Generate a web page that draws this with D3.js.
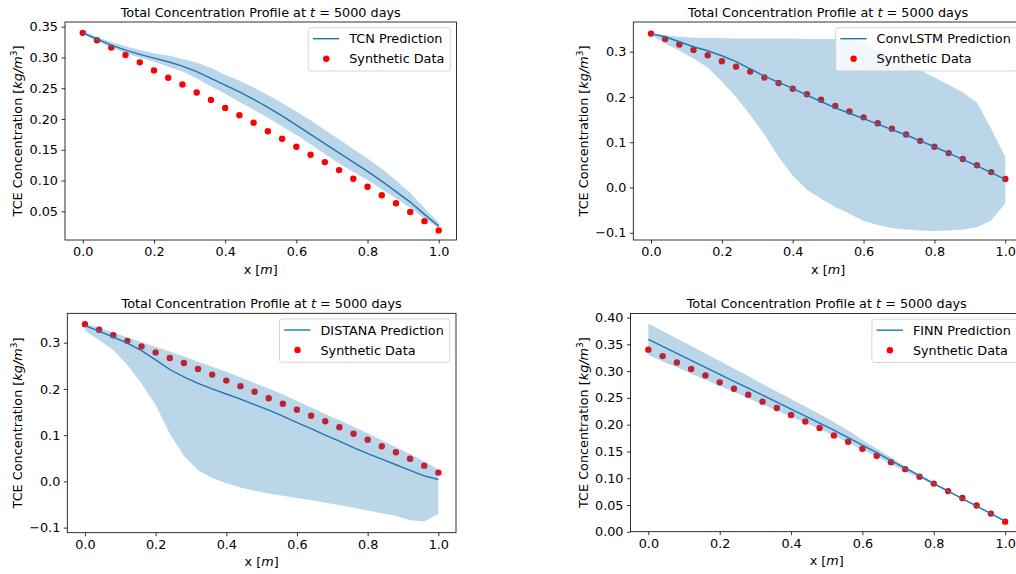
<!DOCTYPE html>
<html>
<head>
<meta charset="utf-8">
<script src="https://cdn.jsdelivr.net/npm/d3@7"></script>
<style>
  html, body { margin: 0; padding: 0; background: #fff; }
  svg { display: block; font-family: "DejaVu Sans", sans-serif; }
</style>
</head>
<body>
<svg id="chart" width="1016" height="574"></svg>
<script>
// values, x grid of the 1D domain in metres
const X_GRID = [0, 0.04, 0.08, 0.12, 0.16, 0.20, 0.24, 0.28, 0.32, 0.36, 0.40, 0.44, 0.48,
  0.52, 0.56, 0.60, 0.64, 0.68, 0.72, 0.76, 0.80, 0.84, 0.88, 0.92, 0.96, 1.00];

const SYNTHETIC_DATA = [0.340, 0.328, 0.316, 0.304, 0.292, 0.279, 0.267, 0.256, 0.243, 0.231,
  0.218, 0.206, 0.194, 0.180, 0.168, 0.155, 0.142, 0.130, 0.117, 0.103, 0.090, 0.076, 0.063,
  0.049, 0.034, 0.019];

const TCN_MEAN = [0.340, 0.330, 0.320, 0.312, 0.305, 0.299, 0.293, 0.286, 0.277, 0.266, 0.255,
  0.244, 0.232, 0.219, 0.205, 0.190, 0.175, 0.160, 0.145, 0.130, 0.115, 0.099, 0.082, 0.065,
  0.045, 0.026];
const TCN_LOWER = [0.338, 0.326, 0.316, 0.307, 0.300, 0.293, 0.285, 0.277, 0.266, 0.253, 0.241,
  0.228, 0.215, 0.202, 0.188, 0.174, 0.159, 0.143, 0.128, 0.114, 0.101, 0.086, 0.071, 0.056,
  0.038, 0.0225];
const TCN_UPPER = [0.343, 0.333, 0.325, 0.318, 0.312, 0.307, 0.303, 0.298, 0.292, 0.283, 0.272,
  0.262, 0.251, 0.239, 0.226, 0.212, 0.198, 0.182, 0.167, 0.151, 0.136, 0.119, 0.100, 0.080,
  0.055, 0.032];

const CONVLSTM_MEAN = [0.340, 0.333, 0.322, 0.311, 0.302, 0.291, 0.278, 0.262, 0.246, 0.232,
  0.219, 0.204, 0.190, 0.176, 0.164, 0.152, 0.140, 0.128, 0.116, 0.103, 0.090, 0.076, 0.062,
  0.048, 0.033, 0.018];
const CONVLSTM_LOWER = [0.337, 0.318, 0.302, 0.285, 0.265, 0.234, 0.200, 0.160, 0.117, 0.068,
  0.026, -0.005, -0.025, -0.043, -0.058, -0.074, -0.083, -0.090, -0.093, -0.095, -0.096,
  -0.095, -0.093, -0.088, -0.073, -0.035];
const CONVLSTM_UPPER = [0.341, 0.336, 0.333, 0.331, 0.330, 0.330, 0.329, 0.329, 0.329, 0.329,
  0.329, 0.328, 0.328, 0.328, 0.327, 0.318, 0.303, 0.288, 0.272, 0.259, 0.243, 0.227, 0.210,
  0.188, 0.130, 0.068];

const DISTANA_MEAN = [0.337, 0.325, 0.312, 0.299, 0.283, 0.263, 0.242, 0.226, 0.212, 0.200,
  0.189, 0.178, 0.166, 0.154, 0.141, 0.127, 0.114, 0.100, 0.087, 0.073, 0.060, 0.048, 0.036,
  0.024, 0.012, 0.004];
const DISTANA_LOWER = [0.326, 0.306, 0.284, 0.252, 0.212, 0.165, 0.103, 0.055, 0.024, 0.0075,
  -0.004, -0.013, -0.020, -0.026, -0.031, -0.036, -0.041, -0.046, -0.051, -0.057, -0.063,
  -0.069, -0.075, -0.084, -0.087, -0.070];
const DISTANA_UPPER = [0.341, 0.332, 0.322, 0.312, 0.301, 0.291, 0.281, 0.270, 0.259, 0.248,
  0.237, 0.225, 0.213, 0.201, 0.188, 0.174, 0.160, 0.146, 0.132, 0.118, 0.104, 0.089, 0.074,
  0.059, 0.043, 0.026];

const FINN_MEAN = [0.359, 0.346, 0.333, 0.320, 0.307, 0.294, 0.281, 0.268, 0.255, 0.242, 0.229,
  0.216, 0.203, 0.190, 0.176, 0.162, 0.148, 0.133, 0.119, 0.105, 0.090, 0.076, 0.062, 0.048,
  0.034, 0.020];
const FINN_LOWER = [0.330, 0.318, 0.307, 0.295, 0.284, 0.272, 0.261, 0.249, 0.238, 0.226, 0.215,
  0.203, 0.192, 0.180, 0.166, 0.153, 0.140, 0.126, 0.113, 0.100, 0.088, 0.075, 0.061, 0.047,
  0.033, 0.019];
const FINN_UPPER = [0.389, 0.375, 0.361, 0.347, 0.333, 0.319, 0.305, 0.291, 0.276, 0.262, 0.248,
  0.234, 0.220, 0.205, 0.189, 0.172, 0.155, 0.139, 0.122, 0.107, 0.092, 0.078, 0.063, 0.049,
  0.035, 0.021];

const X_TICKS = [0, 0.2, 0.4, 0.6, 0.8, 1.0];
const Y_TICKS_TCN = [0.05, 0.10, 0.15, 0.20, 0.25, 0.30, 0.35];
const Y_TICKS_CONVLSTM = [-0.1, 0.0, 0.1, 0.2, 0.3];
const Y_TICKS_DISTANA = [-0.1, 0.0, 0.1, 0.2, 0.3];
const Y_TICKS_FINN = [0.00, 0.05, 0.10, 0.15, 0.20, 0.25, 0.30, 0.35, 0.40];

const BLUE = "#1f77b4";
const FONT_SIZE = 12.8;
const DOT_R = 3.2;

const panels = [
  { name: "TCN", mean: TCN_MEAN, lower: TCN_LOWER, upper: TCN_UPPER,
    yTicks: Y_TICKS_TCN, yFmt: ".2f", yDomain: [0.0034, 0.3576],
    left: 65, right: 456.5, top: 22, bottom: 240, ylabelX: 17.5 },
  { name: "ConvLSTM", mean: CONVLSTM_MEAN, lower: CONVLSTM_LOWER, upper: CONVLSTM_UPPER,
    yTicks: Y_TICKS_CONVLSTM, yFmt: ".1f", yDomain: [-0.116, 0.3656],
    left: 633.3, right: 1023, top: 22, bottom: 240, ylabelX: 583 },
  { name: "DISTANA", mean: DISTANA_MEAN, lower: DISTANA_LOWER, upper: DISTANA_UPPER,
    yTicks: Y_TICKS_DISTANA, yFmt: ".1f", yDomain: [-0.111, 0.3636],
    left: 67.3, right: 456, top: 313.3, bottom: 532.7, ylabelX: 17.5 },
  { name: "FINN", mean: FINN_MEAN, lower: FINN_LOWER, upper: FINN_UPPER,
    yTicks: Y_TICKS_FINN, yFmt: ".2f", yDomain: [0.0002, 0.4075],
    left: 630.5, right: 1023, top: 313.5, bottom: 531.7, ylabelX: 583 }
];

const svg = d3.select("#chart");

panels.forEach(drawPanel);

function drawPanel (p) {
  const x = d3.scaleLinear().domain([-0.05, 1.05]).range([p.left, p.right]);
  const y = d3.scaleLinear().domain(p.yDomain).range([p.bottom, p.top]);
  const rows = X_GRID.map((xv, i) => ({
    x: xv, mean: p.mean[i], lo: p.lower[i], hi: p.upper[i], data: SYNTHETIC_DATA[i]
  }));

  const g = svg.append("g");

  // scatter first, the band is painted over it like in the original
  g.selectAll("circle.data")
    .data(rows)
    .join("circle")
    .attr("class", "data")
    .attr("cx", d => x(d.x))
    .attr("cy", d => y(d.data))
    .attr("r", DOT_R)
    .attr("fill", "red");

  const area = d3.area()
    .x(d => x(d.x))
    .y0(d => y(d.lo))
    .y1(d => y(d.hi));

  g.append("path")
    .datum(rows)
    .attr("d", area)
    .attr("fill", BLUE)
    .attr("fill-opacity", 0.3);

  const line = d3.line()
    .x(d => x(d.x))
    .y(d => y(d.mean));

  g.append("path")
    .datum(rows)
    .attr("d", line)
    .attr("fill", "none")
    .attr("stroke", BLUE)
    .attr("stroke-width", 1.4);

  // axes
  const xAxis = g.append("g")
    .attr("transform", `translate(0,${p.bottom})`)
    .call(d3.axisBottom(x).tickValues(X_TICKS).tickFormat(d3.format(".1f"))
      .tickSize(3.5).tickPadding(3.5));
  const yAxis = g.append("g")
    .attr("transform", `translate(${p.left},0)`)
    .call(d3.axisLeft(y).tickValues(p.yTicks).tickFormat(d3.format(p.yFmt))
      .tickSize(3.5).tickPadding(3.5));

  [xAxis, yAxis].forEach(a => {
    a.select(".domain").remove();
    a.selectAll("line").attr("stroke", "#000").attr("stroke-width", 0.8);
    a.selectAll("text")
      .attr("fill", "#000")
      .style("font-size", FONT_SIZE + "px")
      .style("font-family", "DejaVu Sans");
  });

  // frame
  g.append("rect")
    .attr("x", p.left)
    .attr("y", p.top)
    .attr("width", p.right - p.left)
    .attr("height", p.bottom - p.top)
    .attr("fill", "none")
    .attr("stroke", "#000")
    .attr("stroke-width", 0.8);

  // title
  const cx = (p.left + p.right) / 2;
  const title = g.append("text")
    .attr("x", cx)
    .attr("y", p.top - 5.5)
    .attr("text-anchor", "middle")
    .style("font-size", FONT_SIZE + "px");
  title.append("tspan").text("Total Concentration Profile at ");
  title.append("tspan").attr("font-style", "italic").text("t");
  title.append("tspan").text(" = 5000 days");

  // x label
  const xl = g.append("text")
    .attr("x", cx)
    .attr("y", p.bottom + 33.5)
    .attr("text-anchor", "middle")
    .style("font-size", FONT_SIZE + "px");
  xl.append("tspan").text("x [");
  xl.append("tspan").attr("font-style", "italic").text("m");
  xl.append("tspan").text("]");

  // y label
  const cy = (p.top + p.bottom) / 2;
  const yl = g.append("text")
    .attr("transform", `translate(${p.ylabelX + 4.5},${cy}) rotate(-90)`)
    .attr("text-anchor", "middle")
    .style("font-size", FONT_SIZE + "px");
  yl.append("tspan").text("TCE Concentration [");
  yl.append("tspan").attr("font-style", "italic").text("kg/m");
  yl.append("tspan").attr("dy", -5).style("font-size", "9px").text("3");
  yl.append("tspan").attr("dy", 5).text("]");

  drawLegend(g, p);
}

function drawLegend (g, p) {
  const lg = g.append("g");
  const t1 = lg.append("text").style("font-size", FONT_SIZE + "px").text(p.name + " Prediction");
  const t2 = lg.append("text").style("font-size", FONT_SIZE + "px").text("Synthetic Data");
  const tw = Math.max(t1.node().getComputedTextLength(), t2.node().getComputedTextLength());
  const w = 41 + tw + 6;
  const h = 43.3;
  const bx = p.right - 6.2 - w;
  const by = p.top + 5.7;

  lg.insert("rect", ":first-child")
    .attr("x", bx)
    .attr("y", by)
    .attr("width", w)
    .attr("height", h)
    .attr("rx", 2.5)
    .attr("fill", "#fff")
    .attr("fill-opacity", 0.8)
    .attr("stroke", "#cccccc")
    .attr("stroke-opacity", 0.8)
    .attr("stroke-width", 1);

  lg.append("line")
    .attr("x1", bx + 4.7)
    .attr("x2", bx + 31)
    .attr("y1", by + 11)
    .attr("y2", by + 11)
    .attr("stroke", BLUE)
    .attr("stroke-width", 1.4);
  lg.append("circle")
    .attr("cx", bx + 18)
    .attr("cy", by + 31)
    .attr("r", DOT_R)
    .attr("fill", "red");

  t1.attr("x", bx + 41).attr("y", by + 15.5);
  t2.attr("x", bx + 41).attr("y", by + 35.5);
}
</script>
</body>
</html>
